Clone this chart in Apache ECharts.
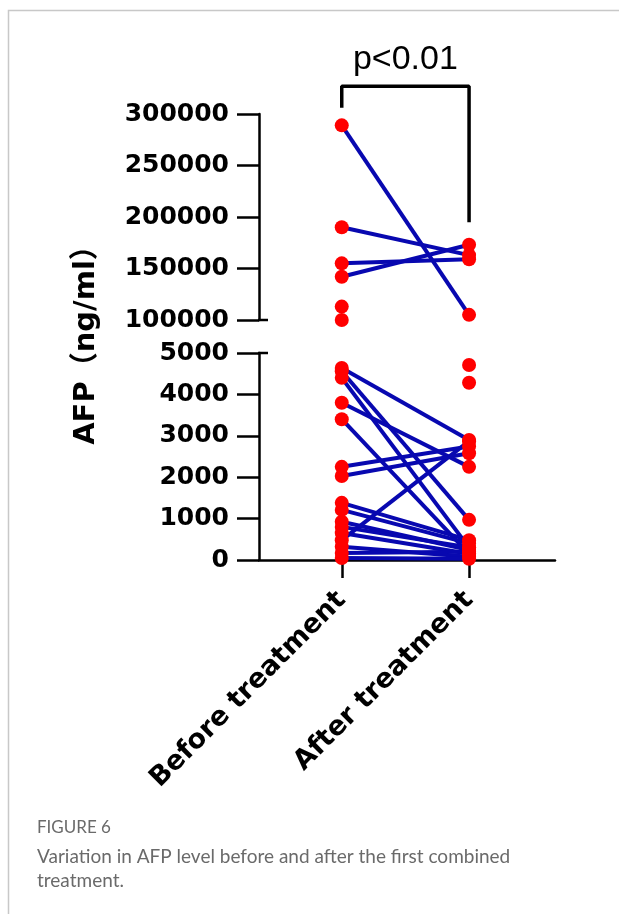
<!DOCTYPE html>
<html>
<head>
<meta charset="utf-8">
<script src="https://cdn.jsdelivr.net/npm/echarts@6/dist/echarts.min.js"></script>
<style>
html,body{margin:0;padding:0;background:#fff;}
#c{width:619px;height:914px;}
</style>
</head>
<body>
<div id="c"></div>
<script>
// ---- data ----
const categories = ['Before treatment', 'After treatment'];
const upperRange = [100000, 300000];
const upperInterval = 50000;
const lowerRange = [0, 5000];
const lowerInterval = 1000;
// paired values (same index = same patient)
const beforeValues = [289000, 190000, 155000, 142000, 113000, 100000,
  4640, 4560, 4400, 3800, 3400, 2250, 2030, 1380, 1210, 925, 800, 650, 480, 320, 170, 50];
const afterValues  = [105000, 163000, 159000, 173000, 4710, 4280,
  2900, 970, 300, 2250, 150, 2740, 2580, 480, 400, 240, 300, 150, 2870, 80, 200, 30];
const pText = 'p<0.01';
const bracketY = [306000, 327000, 327000, 195000];

const chart = echarts.init(document.getElementById('c'), null, {renderer: 'canvas'});

const BLUE = '#0808b0';
const RED = '#ff0000';
const tickFont = {fontFamily: 'DejaVu Sans', fontWeight: 'bold', fontSize: 25, color: '#000',
  formatter: v => String(v)};

function seg(v) { return v >= upperRange[0] ? 0 : 1; }

const series = [];
const scatterData = [[], []];
beforeValues.forEach((b, i) => {
  const a = afterValues[i];
  const sb = seg(b), sa = seg(a);
  scatterData[sb].push([0, b]);
  scatterData[sa].push([1, a]);
  if (sb === sa) {
    series.push({
      type: 'line', xAxisIndex: sb, yAxisIndex: sb,
      data: [[0, b], [1, a]], showSymbol: false, silent: true,
      lineStyle: {color: BLUE, width: 4}, z: 2
    });
  }
});
[0, 1].forEach(g => {
  series.push({
    type: 'scatter', xAxisIndex: g, yAxisIndex: g, data: scatterData[g],
    symbolSize: 14, itemStyle: {color: RED, opacity: 1}, z: 5, clip: false, silent: true
  });
});
// significance bracket
series.push({
  type: 'line', xAxisIndex: 0, yAxisIndex: 0, clip: false, silent: true,
  data: [[0, bracketY[0]], [0, bracketY[1]], [1, bracketY[2]], [1, bracketY[3]]],
  showSymbol: false, lineStyle: {color: '#000', width: 3.5}, z: 3
});

const xMin = -0.65, xMax = 1.675;
const axisLineStyle = {color: '#000', width: 2.5};

chart.setOption({
  animation: false,
  backgroundColor: '#fff',
  grid: [
    {left: 259, top: 114, width: 296, height: 206, containLabel: false},
    {left: 259, top: 353, width: 296, height: 207, containLabel: false}
  ],
  xAxis: [
    {gridIndex: 0, type: 'value', min: xMin, max: xMax, show: false},
    {gridIndex: 1, type: 'value', min: xMin, max: xMax,
      axisLine: {show: true, onZero: false, lineStyle: axisLineStyle},
      axisTick: {show: true, customValues: [0, 1], length: 18, lineStyle: axisLineStyle},
      axisLabel: {show: true, customValues: [0, 1], rotate: 45, margin: 36,
        formatter: v => categories[Math.round(v)] || '',
        fontFamily: 'DejaVu Sans', fontWeight: 'bold', fontSize: 27, color: '#000'},
      splitLine: {show: false}}
  ],
  yAxis: [
    {gridIndex: 0, type: 'value', min: upperRange[0], max: upperRange[1], interval: upperInterval,
      axisLine: {show: true, onZero: false, lineStyle: axisLineStyle},
      axisTick: {show: true, length: 22, lineStyle: axisLineStyle},
      axisLabel: Object.assign({margin: 30}, tickFont),
      splitLine: {show: false}},
    {gridIndex: 1, type: 'value', min: lowerRange[0], max: lowerRange[1], interval: lowerInterval,
      axisLine: {show: true, onZero: false, lineStyle: axisLineStyle},
      axisTick: {show: true, length: 22, lineStyle: axisLineStyle},
      axisLabel: Object.assign({margin: 30}, tickFont),
      splitLine: {show: false}}
  ],
  series: series
});

// decorations: break caps, axis title, p-value, frame, caption
const pUpperBottom = chart.convertToPixel({xAxisIndex: 0, yAxisIndex: 0}, [xMin, upperRange[0]]);
const pLowerTop = chart.convertToPixel({xAxisIndex: 1, yAxisIndex: 1}, [xMin, lowerRange[1]]);
const pLeft = chart.convertToPixel({xAxisIndex: 0, yAxisIndex: 0}, [0, bracketY[1]]);
const pRight = chart.convertToPixel({xAxisIndex: 0, yAxisIndex: 0}, [1, bracketY[1]]);

chart.setOption({
  graphic: [
    {type: 'rect', shape: {x: 8.5, y: 10.5, width: 700, height: 1000},
      style: {fill: 'none', stroke: '#c8c8c8', lineWidth: 1.5}, z: -10, silent: true},
    {type: 'line', shape: {x1: pUpperBottom[0] - 1, y1: pUpperBottom[1], x2: pUpperBottom[0] + 9, y2: pUpperBottom[1]},
      style: {stroke: '#000', lineWidth: 2.5}, silent: true},
    {type: 'line', shape: {x1: pLowerTop[0] - 1, y1: pLowerTop[1], x2: pLowerTop[0] + 9, y2: pLowerTop[1]},
      style: {stroke: '#000', lineWidth: 2.5}, silent: true},
    {type: 'text', x: 86, y: 338, rotation: Math.PI / 2,
      style: {text: 'AFP（ng/ml）', fontFamily: 'DejaVu Sans, Noto Sans CJK SC', fontWeight: 'bold', fontSize: 29,
        fill: '#000', align: 'center', verticalAlign: 'middle'}, silent: true},
    {type: 'text', x: (pLeft[0] + pRight[0]) / 2 + 0, y: pLeft[1] - 10,
      style: {text: pText, fontFamily: 'Liberation Sans', fontSize: 34, fill: '#000',
        align: 'center', verticalAlign: 'bottom'}, silent: true},
    {type: 'text', x: 37, y: 828,
      style: {text: 'FIGURE 6', fontFamily: 'Lato', fontSize: 17, fill: '#6a6a6a',
        align: 'left', verticalAlign: 'middle'}, silent: true},
    {type: 'text', x: 37, y: 857,
      style: {text: 'Variation in AFP level before and after the first combined', fontFamily: 'Lato', fontSize: 19,
        fill: '#6a6a6a', align: 'left', verticalAlign: 'middle'}, silent: true},
    {type: 'text', x: 37, y: 881,
      style: {text: 'treatment.', fontFamily: 'Lato', fontSize: 19, fill: '#6a6a6a',
        align: 'left', verticalAlign: 'middle'}, silent: true}
  ]
});
</script>
</body>
</html>
